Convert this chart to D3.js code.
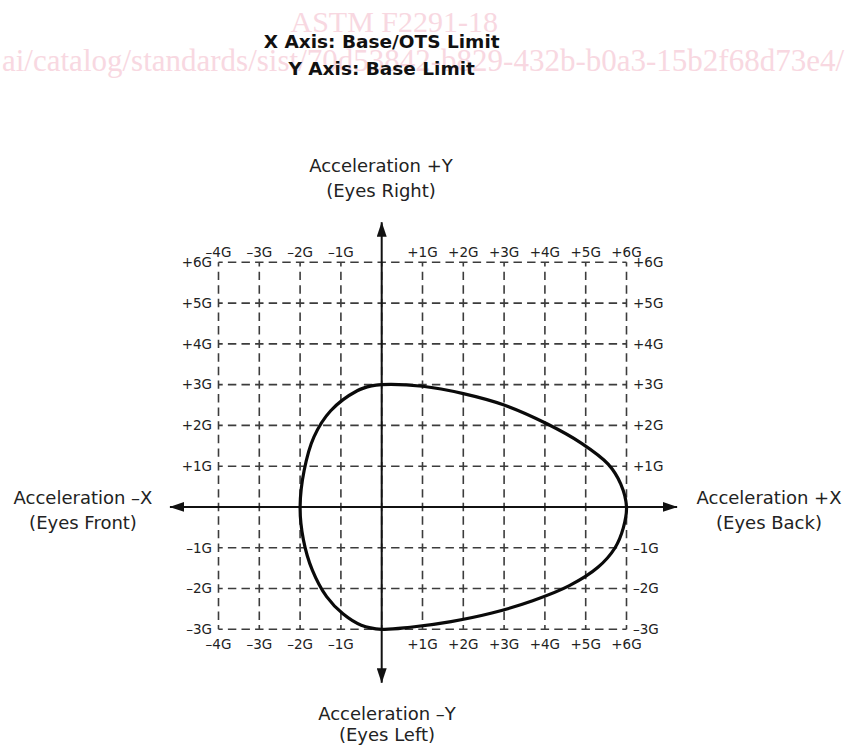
<!DOCTYPE html>
<html>
<head>
<meta charset="utf-8">
<script src="https://cdn.jsdelivr.net/npm/d3@7"></script>
<style>
  html, body { margin: 0; padding: 0; background: #fff; }
  svg { display: block; }
</style>
</head>
<body>
<svg id="chart" width="845" height="748"></svg>
<script>
// ---------------- data ----------------
const titleLines = ["X Axis: Base/OTS Limit", "Y Axis: Base Limit"];
const watermarkLines = ["ASTM F2291-18", "ai/catalog/standards/sist/70d53842-b829-432b-b0a3-15b2f68d73e4/"];
const xGridValues = [-4, -3, -2, -1, 0, 1, 2, 3, 4, 5, 6];
const yGridValues = [-3, -2, -1, 0, 1, 2, 3, 4, 5, 6];
const xTickLabels = ["–4G", "–3G", "–2G", "–1G", "+1G", "+2G", "+3G", "+4G", "+5G", "+6G"];
const xTickValues = [-4, -3, -2, -1, 1, 2, 3, 4, 5, 6];
const yTickLabels = ["–3G", "–2G", "–1G", "+1G", "+2G", "+3G", "+4G", "+5G", "+6G"];
const yTickValues = [-3, -2, -1, 1, 2, 3, 4, 5, 6];
const axisLabelTop = ["Acceleration +Y", "(Eyes Right)"];
const axisLabelBottom = ["Acceleration –Y", "(Eyes Left)"];
const axisLabelLeft = ["Acceleration –X", "(Eyes Front)"];
const axisLabelRight = ["Acceleration +X", "(Eyes Back)"];
// limit envelope (x, y) in G, clockwise from top
const limitX = [0, 1, 2, 3, 4.05, 4.9, 5.55, 5.86, 6.0, 5.92, 5.72, 5.3, 4.6, 3.7, 2.7, 1.7, 0.7, 0, -0.5, -0.95, -1.35, -1.7, -1.92, -2.0, -1.9, -1.66, -1.25, -0.6, -0.25];
const limitY = [3.0, 2.96, 2.78, 2.5, 2.04, 1.56, 1.05, 0.56, 0, -0.52, -1.0, -1.48, -1.93, -2.3, -2.6, -2.81, -2.95, -3.0, -2.9, -2.62, -2.2, -1.55, -0.8, 0, 0.9, 1.72, 2.36, 2.85, 2.97];
// axis arrow extents (G)
const xAxisExtent = [-5.19, 7.24];
const yAxisExtent = [-4.31, 6.98];

// ---------------- drawing ----------------
const svg = d3.select("#chart");
const x = d3.scaleLinear().domain([-4, 6]).range([218.5, 626.5]);
const y = d3.scaleLinear().domain([-3, 6]).range([629.3, 262.3]);

const unitX = x(1) - x(0);
const unitY = y(0) - y(1);

// watermark
const wm = svg.append("g").attr("fill", "#f8d8e1")
  .style("font-family", "'Liberation Serif', 'Times New Roman', serif")
  .style("font-size", "30px");
wm.append("text").attr("x", 498).attr("y", 32).attr("text-anchor", "end").text(watermarkLines[0]);
wm.append("text").attr("x", 2).attr("y", 71).style("font-size", "31px").text(watermarkLines[1]);

// title
const title = svg.append("g")
  .style("font-family", "'DejaVu Sans', Verdana, sans-serif")
  .style("font-weight", "bold")
  .style("font-size", "18.5px")
  .attr("fill", "#111").attr("text-anchor", "middle");
title.append("text").attr("x", x(0)).attr("y", 48).text(titleLines[0]);
title.append("text").attr("x", x(0)).attr("y", 75).text(titleLines[1]);

// grid
const grid = svg.append("g").attr("stroke", "#3c3c3c").attr("stroke-width", 1.6).attr("fill", "none");
const dX = unitX / 3, dY = unitY / 3;
grid.selectAll("line.h").data(yGridValues).join("line")
  .attr("class", "h")
  .attr("x1", x(-4)).attr("x2", x(6))
  .attr("y1", d => y(d)).attr("y2", d => y(d))
  .attr("stroke-dasharray", `${dX * 0.62} ${dX * 0.38}`)
  .attr("stroke-dashoffset", dX * 0.31);
grid.selectAll("line.v").data(xGridValues).join("line")
  .attr("class", "v")
  .attr("x1", d => x(d)).attr("x2", d => x(d))
  .attr("y1", y(6)).attr("y2", y(-3))
  .attr("stroke-dasharray", `${dY * 0.62} ${dY * 0.38}`)
  .attr("stroke-dashoffset", dY * 0.31);

// tick labels
const tickFont = "'DejaVu Sans', Verdana, sans-serif";
const ticks = svg.append("g").style("font-family", tickFont).style("font-size", "13.5px").attr("fill", "#222");
ticks.selectAll("text.xt").data(xTickValues).join("text")
  .attr("class", "xt").attr("text-anchor", "middle")
  .attr("x", d => x(d)).attr("y", y(6) - 5)
  .text((d, i) => xTickLabels[i]);
ticks.selectAll("text.xb").data(xTickValues).join("text")
  .attr("class", "xb").attr("text-anchor", "middle")
  .attr("x", d => x(d)).attr("y", y(-3) + 19.5)
  .text((d, i) => xTickLabels[i]);
ticks.selectAll("text.yl").data(yTickValues).join("text")
  .attr("class", "yl").attr("text-anchor", "end")
  .attr("x", x(-4) - 6.5).attr("y", d => y(d)).attr("dy", "0.36em")
  .text((d, i) => yTickLabels[i]);
ticks.selectAll("text.yr").data(yTickValues).join("text")
  .attr("class", "yr").attr("text-anchor", "start")
  .attr("x", x(6) + 6.5).attr("y", d => y(d)).attr("dy", "0.36em")
  .text((d, i) => yTickLabels[i]);

// axes with arrows
const defs = svg.append("defs");
defs.append("marker").attr("id", "arrow")
  .attr("viewBox", "0 0 15 10").attr("refX", 14.5).attr("refY", 5)
  .attr("markerWidth", 15).attr("markerHeight", 10)
  .attr("markerUnits", "userSpaceOnUse").attr("orient", "auto-start-reverse")
  .append("path").attr("d", "M0,0 L15,5 L0,10 Z").attr("fill", "#111");
const axes = svg.append("g").attr("stroke", "#111").attr("stroke-width", 2);
axes.append("line")
  .attr("x1", x(xAxisExtent[0])).attr("x2", x(xAxisExtent[1]))
  .attr("y1", y(0)).attr("y2", y(0))
  .attr("marker-start", "url(#arrow)").attr("marker-end", "url(#arrow)");
axes.append("line")
  .attr("x1", x(0)).attr("x2", x(0))
  .attr("y1", y(yAxisExtent[0])).attr("y2", y(yAxisExtent[1]))
  .attr("marker-start", "url(#arrow)").attr("marker-end", "url(#arrow)");

// envelope curve
const pts = limitX.map((v, i) => [v, limitY[i]]);
const line = d3.line().x(d => x(d[0])).y(d => y(d[1])).curve(d3.curveCatmullRomClosed.alpha(0.5));
svg.append("path").datum(pts).attr("d", line)
  .attr("fill", "none").attr("stroke", "#0a0a0a").attr("stroke-width", 3.2)
  .attr("stroke-linejoin", "round");

// axis labels
const lab = svg.append("g").style("font-family", "'DejaVu Sans', Verdana, sans-serif")
  .style("font-size", "18px").attr("fill", "#222").attr("text-anchor", "middle");
function twoLines(lines, cx, y1, y2) {
  lab.append("text").attr("x", cx).attr("y", y1).text(lines[0]);
  lab.append("text").attr("x", cx).attr("y", y2).text(lines[1]);
}
twoLines(axisLabelTop, 381, 172, 197);
twoLines(axisLabelBottom, 387, 720, 741);
twoLines(axisLabelLeft, 83, 504, 529);
twoLines(axisLabelRight, 769, 504, 529);
</script>
</body>
</html>
